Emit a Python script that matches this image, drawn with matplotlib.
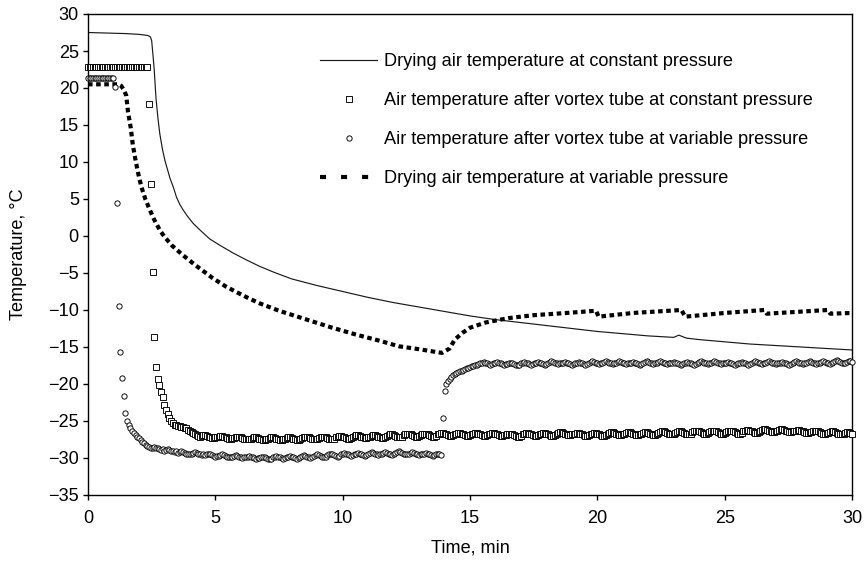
import numpy as np
import matplotlib
matplotlib.use("Agg")
import matplotlib.pyplot as plt
from matplotlib.lines import Line2D

plt.rcParams['font.family'] = ['Liberation Sans', 'DejaVu Sans']
FS = 13.1
plt.rcParams['font.size'] = FS

# Logger sampling interval for the vortex-tube outlet probes (4 s)
SAMPLE_MIN = 4.0 / 60.0

# Drying air temperature at constant pressure (solid line)
dry_const_time = [0, 0.5, 1.0, 1.5, 2.0, 2.35, 2.45, 2.5, 2.55, 2.6, 2.67, 2.75, 2.82,
                  2.92, 3.02, 3.12, 3.22, 3.35, 3.48, 3.6, 3.74, 3.9, 4.13, 4.4, 4.78,
                  5.2, 5.7, 6.2, 6.74, 7.3, 8, 9, 10, 11, 12, 13, 14, 15, 16, 17, 18,
                  19, 20, 21, 22, 23, 23.2, 23.5, 24, 25, 26, 27, 28, 29, 30]
dry_const_temp = [27.5, 27.45, 27.4, 27.35, 27.25, 27.1, 26.9, 26.4, 24.5, 22.5, 18.6,
                  15.8, 13.8, 11.8, 10.2, 9.0, 7.8, 6.6, 5.2, 4.3, 3.5, 2.7, 1.7, 0.8,
                  -0.4, -1.3, -2.3, -3.2, -4.1, -4.9, -5.8, -6.7, -7.5, -8.3, -9.0,
                  -9.6, -10.2, -10.8, -11.3, -11.7, -12.1, -12.5, -12.9, -13.2, -13.5,
                  -13.7, -13.4, -13.8, -14.0, -14.3, -14.6, -14.8, -15.0, -15.2, -15.4]

# Drying air temperature at variable pressure (dashed line)
dry_var_time = [0, 1.2, 1.3, 1.4, 1.5, 1.57, 1.68, 1.76, 1.88, 2.0, 2.1, 2.25, 2.43,
                2.6, 2.82, 3.0, 3.3, 3.73, 4.2, 4.9, 5.4, 5.84, 6.3, 6.74, 7.5, 8.5,
                9.5, 10.5, 11.5, 12.2, 13.0, 13.9, 14.0, 14.2, 14.4, 14.7, 15.0, 15.6,
                16.5, 17.5, 18.8, 19.95, 20.05, 21.4, 23.3, 23.45, 25.0, 26.55, 26.65,
                29.05, 29.15, 30]
dry_var_temp = [20.5, 20.5, 20.3, 19.8, 19.0, 16.8, 14.6, 12.3, 10.0, 8.0, 6.6, 5.0,
                3.5, 2.2, 0.8, -0.1, -1.3, -2.6, -3.9, -5.7, -6.8, -7.6, -8.4, -9.1,
                -10.1, -11.2, -12.3, -13.3, -14.2, -14.9, -15.3, -15.8, -15.6, -15.2,
                -14.0, -13.1, -12.4, -11.7, -11.1, -10.7, -10.4, -10.1, -10.9, -10.4,
                -10.0, -10.9, -10.4, -10.0, -10.5, -10.0, -10.5, -10.4]

# Air temperature after vortex tube at constant pressure (squares)
vortex_const_temp = [
    22.9, 22.9, 22.9, 22.9, 22.9, 22.9, 22.9, 22.9, 22.9, 22.9, 22.9, 22.9,
    22.9, 22.9, 22.9, 22.9, 22.9, 22.9, 22.9, 22.9, 22.9, 22.9, 22.9, 22.9,
    22.9, 22.9, 22.9, 22.9, 22.9, 22.9, 22.9, 22.9, 22.9, 22.9, 22.9, 22.8,
    17.8, 7.0, -4.8, -13.6, -17.7, -19.3, -20.2, -21.1, -21.8, -22.8,
    -23.5, -24.1, -24.6, -25.0, -25.3, -25.5, -25.6, -25.7, -25.7, -25.8,
    -25.8, -25.9, -26.0, -26.2, -26.3, -26.5, -26.6, -26.8, -26.9, -27.0,
    -27.1, -27.0, -26.9, -26.9, -27.0, -27.1, -27.2, -27.3, -27.3, -27.2,
    -27.2, -27.1, -27.0, -27.0, -27.1, -27.2, -27.3, -27.4, -27.4, -27.3,
    -27.3, -27.2, -27.1, -27.1, -27.2, -27.3, -27.4, -27.5, -27.5, -27.4,
    -27.4, -27.3, -27.2, -27.2, -27.3, -27.4, -27.5, -27.6, -27.6, -27.5,
    -27.4, -27.3, -27.2, -27.2, -27.3, -27.4, -27.5, -27.6, -27.6, -27.5,
    -27.4, -27.3, -27.2, -27.2, -27.3, -27.4, -27.5, -27.6, -27.6, -27.5,
    -27.3, -27.2, -27.1, -27.1, -27.2, -27.3, -27.4, -27.5, -27.5, -27.4,
    -27.3, -27.2, -27.1, -27.1, -27.2, -27.3, -27.4, -27.5, -27.5, -27.4,
    -27.2, -27.1, -27.0, -27.0, -27.1, -27.2, -27.3, -27.4, -27.4, -27.3,
    -27.1, -27.0, -26.9, -26.9, -27.0, -27.1, -27.2, -27.3, -27.3, -27.2,
    -27.1, -27.0, -26.9, -26.9, -27.0, -27.1, -27.2, -27.3, -27.3, -27.2,
    -27.0, -26.9, -26.8, -26.8, -26.9, -27.0, -27.1, -27.2, -27.2, -27.1,
    -26.9, -26.8, -26.7, -26.7, -26.8, -26.9, -27.0, -27.1, -27.1, -27.0,
    -26.9, -26.8, -26.7, -26.7, -26.8, -26.9, -27.0, -27.1, -27.1, -27.0,
    -26.8, -26.7, -26.6, -26.6, -26.7, -26.8, -26.9, -27.0, -27.0, -26.9,
    -26.8, -26.7, -26.6, -26.6, -26.7, -26.8, -26.9, -27.0, -27.0, -26.9,
    -26.8, -26.7, -26.6, -26.6, -26.7, -26.8, -26.9, -27.0, -27.0, -26.9,
    -26.8, -26.7, -26.6, -26.6, -26.7, -26.8, -26.9, -27.0, -27.0, -26.9,
    -26.9, -26.8, -26.7, -26.7, -26.8, -26.9, -27.0, -27.1, -27.1, -27.0,
    -26.8, -26.7, -26.6, -26.6, -26.7, -26.8, -26.9, -27.0, -27.0, -26.9,
    -26.8, -26.7, -26.6, -26.6, -26.7, -26.8, -26.9, -27.0, -27.0, -26.9,
    -26.7, -26.6, -26.5, -26.5, -26.6, -26.7, -26.8, -26.9, -26.9, -26.8,
    -26.8, -26.7, -26.6, -26.6, -26.7, -26.8, -26.9, -27.0, -27.0, -26.9,
    -26.8, -26.7, -26.6, -26.6, -26.7, -26.8, -26.9, -27.0, -27.0, -26.9,
    -26.7, -26.6, -26.5, -26.5, -26.6, -26.7, -26.8, -26.9, -26.9, -26.8,
    -26.7, -26.6, -26.5, -26.5, -26.6, -26.7, -26.8, -26.9, -26.9, -26.8,
    -26.7, -26.6, -26.5, -26.5, -26.6, -26.7, -26.8, -26.9, -26.9, -26.8,
    -26.6, -26.5, -26.4, -26.4, -26.5, -26.6, -26.7, -26.8, -26.8, -26.7,
    -26.6, -26.5, -26.4, -26.4, -26.5, -26.6, -26.7, -26.8, -26.8, -26.7,
    -26.5, -26.4, -26.3, -26.3, -26.4, -26.5, -26.6, -26.7, -26.7, -26.6,
    -26.5, -26.4, -26.3, -26.3, -26.4, -26.5, -26.6, -26.7, -26.7, -26.6,
    -26.5, -26.4, -26.3, -26.3, -26.4, -26.5, -26.6, -26.7, -26.7, -26.6,
    -26.4, -26.3, -26.2, -26.2, -26.3, -26.4, -26.5, -26.6, -26.6, -26.5,
    -26.3, -26.2, -26.1, -26.1, -26.2, -26.3, -26.4, -26.5, -26.5, -26.4,
    -26.3, -26.2, -26.1, -26.1, -26.2, -26.3, -26.4, -26.5, -26.5, -26.4,
    -26.4, -26.3, -26.2, -26.2, -26.3, -26.4, -26.5, -26.6, -26.6, -26.5,
    -26.5, -26.4, -26.3, -26.3, -26.4, -26.5, -26.6, -26.7, -26.7, -26.6,
    -26.6, -26.5, -26.4, -26.4, -26.5, -26.6, -26.7, -26.8, -26.8, -26.7,
    -26.6, -26.5, -26.5, -26.6, -26.7,
]

# Air temperature after vortex tube at variable pressure (circles)
vortex_var_temp = [
    21.4, 21.4, 21.4, 21.4, 21.4, 21.4, 21.4, 21.4,
    21.4, 21.4, 21.4, 21.4, 21.4, 21.4, 21.4, 21.4,
    20.1, 4.5, -9.5, -15.7, -19.2, -21.6, -23.9, -25.0, -25.6, -26.0, -26.3,
    -26.6, -26.9, -27.1, -27.3, -27.6, -27.8, -28.0, -28.2, -28.4, -28.5,
    -28.7, -28.6, -28.5, -28.6, -28.7, -28.8, -28.9, -28.8,
    -29.0, -28.9, -28.8, -28.9, -29.0, -29.1, -29.2, -29.1,
    -29.3, -29.2, -29.1, -29.2, -29.3, -29.4, -29.5, -29.4,
    -29.4, -29.3, -29.2, -29.3, -29.4, -29.5, -29.6, -29.5,
    -29.6, -29.5, -29.4, -29.5, -29.6, -29.7, -29.8, -29.7,
    -29.7, -29.6, -29.5, -29.6, -29.7, -29.8, -29.9, -29.8,
    -29.8, -29.7, -29.6, -29.7, -29.8, -29.9, -30.0, -29.9,
    -29.9, -29.8, -29.7, -29.8, -29.9, -30.0, -30.1, -30.0,
    -30.0, -29.9, -29.8, -29.9, -30.0, -30.1, -30.2, -30.1,
    -29.9, -29.8, -29.7, -29.8, -29.9, -30.0, -30.1, -30.0,
    -29.9, -29.8, -29.7, -29.8, -29.9, -30.0, -30.1, -30.0,
    -29.8, -29.7, -29.6, -29.7, -29.8, -29.9, -30.0, -29.9,
    -29.7, -29.6, -29.5, -29.6, -29.7, -29.8, -29.9, -29.8,
    -29.6, -29.5, -29.4, -29.5, -29.6, -29.7, -29.8, -29.7,
    -29.5, -29.4, -29.3, -29.4, -29.5, -29.6, -29.7, -29.6,
    -29.5, -29.4, -29.3, -29.4, -29.5, -29.6, -29.7, -29.6,
    -29.4, -29.3, -29.2, -29.3, -29.4, -29.5, -29.6, -29.5,
    -29.4, -29.3, -29.2, -29.3, -29.4, -29.5, -29.6, -29.5,
    -29.3, -29.2, -29.1, -29.2, -29.3, -29.4, -29.5, -29.4,
    -29.4, -29.3, -29.2, -29.3, -29.4, -29.5, -29.6, -29.5,
    -29.5, -29.4, -29.3, -29.4, -29.5, -29.6, -29.7, -29.6,
    -29.5, -29.4, -29.4, -29.6,
    -24.6, -20.9, -20.0, -19.6, -19.3, -19.0, -18.8, -18.6, -18.5, -18.4, -18.3,
    -18.2, -18.1, -18.0, -17.9, -17.8, -17.7, -17.6, -17.6, -17.5, -17.4, -17.3,
    -17.2, -17.1, -17.0, -17.1, -17.2, -17.3, -17.4, -17.3,
    -17.2, -17.1, -17.0, -17.1, -17.2, -17.3, -17.4, -17.3,
    -17.3, -17.2, -17.1, -17.2, -17.3, -17.4, -17.5, -17.4,
    -17.2, -17.1, -17.0, -17.1, -17.2, -17.3, -17.4, -17.3,
    -17.2, -17.1, -17.0, -17.1, -17.2, -17.3, -17.4, -17.3,
    -17.1, -17.0, -16.9, -17.0, -17.1, -17.2, -17.3, -17.2,
    -17.2, -17.1, -17.0, -17.1, -17.2, -17.3, -17.4, -17.3,
    -17.2, -17.1, -17.0, -17.1, -17.2, -17.3, -17.4, -17.3,
    -17.1, -17.0, -16.9, -17.0, -17.1, -17.2, -17.3, -17.2,
    -17.1, -17.0, -16.9, -17.0, -17.1, -17.2, -17.3, -17.2,
    -17.1, -17.0, -16.9, -17.0, -17.1, -17.2, -17.3, -17.2,
    -17.2, -17.1, -17.0, -17.1, -17.2, -17.3, -17.4, -17.3,
    -17.1, -17.0, -16.9, -17.0, -17.1, -17.2, -17.3, -17.2,
    -17.1, -17.0, -16.9, -17.0, -17.1, -17.2, -17.3, -17.2,
    -17.2, -17.1, -17.0, -17.1, -17.2, -17.3, -17.4, -17.3,
    -17.2, -17.1, -17.0, -17.1, -17.2, -17.3, -17.4, -17.3,
    -17.1, -17.0, -16.9, -17.0, -17.1, -17.2, -17.3, -17.2,
    -17.1, -17.0, -16.9, -17.0, -17.1, -17.2, -17.3, -17.2,
    -17.2, -17.1, -17.0, -17.1, -17.2, -17.3, -17.4, -17.3,
    -17.2, -17.1, -17.0, -17.1, -17.2, -17.3, -17.4, -17.3,
    -17.1, -17.0, -16.9, -17.0, -17.1, -17.2, -17.3, -17.2,
    -17.1, -17.0, -16.9, -17.0, -17.1, -17.2, -17.3, -17.2,
    -17.2, -17.1, -17.0, -17.1, -17.2, -17.3, -17.4, -17.3,
    -17.1, -17.0, -16.9, -17.0, -17.1, -17.2, -17.3, -17.2,
    -17.1, -17.0, -16.9, -17.0, -17.1, -17.2, -17.3, -17.2,
    -17.1, -17.0, -16.9, -17.0, -17.1, -17.2, -17.3, -17.2,
    -17.0, -16.9, -16.8, -16.9, -17.0, -17.1, -17.2, -17.1,
    -17.0, -16.9, -16.9, -17.0,
]

vortex_const_time = np.arange(len(vortex_const_temp)) * SAMPLE_MIN
vortex_var_time = np.arange(len(vortex_var_temp)) * SAMPLE_MIN

labels = [
    "Drying air temperature at constant pressure",
    "Air temperature after vortex tube at constant pressure",
    "Air temperature after vortex tube at variable pressure",
    "Drying air temperature at variable pressure",
]
x_ticks = [0, 5, 10, 15, 20, 25, 30]
y_ticks = [-35, -30, -25, -20, -15, -10, -5, 0, 5, 10, 15, 20, 25, 30]

fig = plt.figure(figsize=(8.68, 5.66), dpi=100)
ax = fig.add_axes([88 / 868, 1 - 495 / 566, 764 / 868, 481 / 566])

ax.plot(dry_const_time, dry_const_temp, color='#1a1a1a', lw=0.85, zorder=2)
ax.plot(dry_var_time, dry_var_temp, color='black', lw=3.0,
        dashes=(1.1, 0.85), dash_capstyle='butt', zorder=2)

MS_SQ, MS_CI, MEW = 3.7, 3.8, 0.65
marker_kw = dict(linestyle='none', markerfacecolor='white', markeredgecolor='black',
                 markeredgewidth=MEW, clip_on=False, zorder=3)
ax.plot(vortex_const_time, vortex_const_temp, marker='s', markersize=MS_SQ, **marker_kw)
ax.plot(vortex_var_time, vortex_var_temp, marker='o', markersize=MS_CI, **marker_kw)

ax.set_xlim(0, 30)
ax.set_ylim(-35, 30)
ax.set_xticks(x_ticks)
ax.set_yticks(y_ticks)
ax.tick_params(direction='out', length=3.6, width=1.0, labelsize=FS)
ax.tick_params(axis='x', pad=7)
ax.tick_params(axis='y', pad=3)
for sp in ax.spines.values():
    sp.set_linewidth(1.0)
    sp.set_color('black')

ax.set_xlabel("Time, min", fontsize=FS)
ax.set_ylabel("Temperature, °C", fontsize=FS)
ax.xaxis.set_label_coords(0.5, -0.093)
ax.yaxis.set_label_coords(-0.080, 0.5)

# Legend handles
h_solid = Line2D([], [], color='#1a1a1a', lw=0.85)
h_sq = Line2D([], [], linestyle='none', marker='s', markersize=MS_SQ,
              markerfacecolor='white', markeredgecolor='black', markeredgewidth=MEW)
h_ci = Line2D([], [], linestyle='none', marker='o', markersize=MS_CI,
              markerfacecolor='white', markeredgecolor='black', markeredgewidth=MEW)
h_dash = Line2D([], [], color='black', lw=3.0, dashes=(1.45, 3.6), dash_capstyle='butt')
fig.legend([h_solid, h_sq, h_ci, h_dash], labels, loc='upper left',
           bbox_to_anchor=(320 / 868, 1 - 53 / 566), frameon=False, borderpad=0,
           borderaxespad=0, handlelength=57 / (FS * 100 / 72), handletextpad=0.36,
           labelspacing=1.21, fontsize=FS, numpoints=1)

fig.savefig("out.png", dpi=100)
